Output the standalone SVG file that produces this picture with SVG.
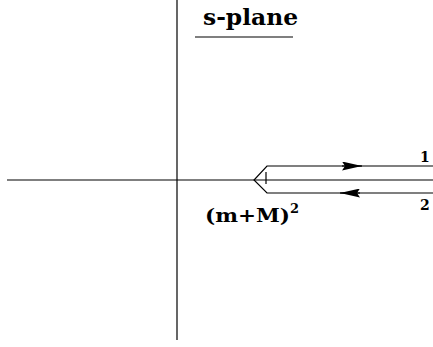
<svg xmlns="http://www.w3.org/2000/svg" width="433" height="347" viewBox="0 0 433 347">
<style>
.ln{stroke:#000;stroke-width:1.2;fill:none}
.t{font-family:"DejaVu Serif","Liberation Serif",serif;font-weight:bold;fill:#000}
</style>
<defs>
<marker id="ah" viewBox="0 0 20 9" refX="20" refY="4.5" markerWidth="20" markerHeight="9" markerUnits="userSpaceOnUse" orient="auto">
<path d="M0,0 L20,4.5 L0,9 L3,4.5 Z" fill="#000"/>
</marker>
</defs>
<rect width="433" height="347" fill="#fff"/>
<g id="connectors">
<line class="ln" x1="7" y1="180" x2="433" y2="180"/>
<line class="ln" x1="177" y1="0" x2="177" y2="340"/>
<path class="ln" d="M433,166 L267,166 L254,180 L267,193 L433,193"/>
<line class="ln" x1="266" y1="172" x2="266" y2="184"/>
<line class="ln" x1="342" y1="166" x2="362" y2="166" marker-end="url(#ah)"/>
<line class="ln" x1="360" y1="193" x2="340" y2="193" marker-end="url(#ah)"/>
</g>
<g id="title">
<text class="t" x="203" y="25" font-size="22" textLength="95" lengthAdjust="spacingAndGlyphs">s-plane</text>
<line class="ln" x1="195" y1="37" x2="293" y2="37"/>
</g>
<g id="labels">
<text class="t" x="420" y="162" font-size="14">1</text>
<text class="t" x="420" y="210" font-size="14">2</text>
<text class="t" x="205" y="222" font-size="19" textLength="85" lengthAdjust="spacingAndGlyphs">(m+M)</text>
<text class="t" x="290" y="213" font-size="13">2</text>
</g>
</svg>
